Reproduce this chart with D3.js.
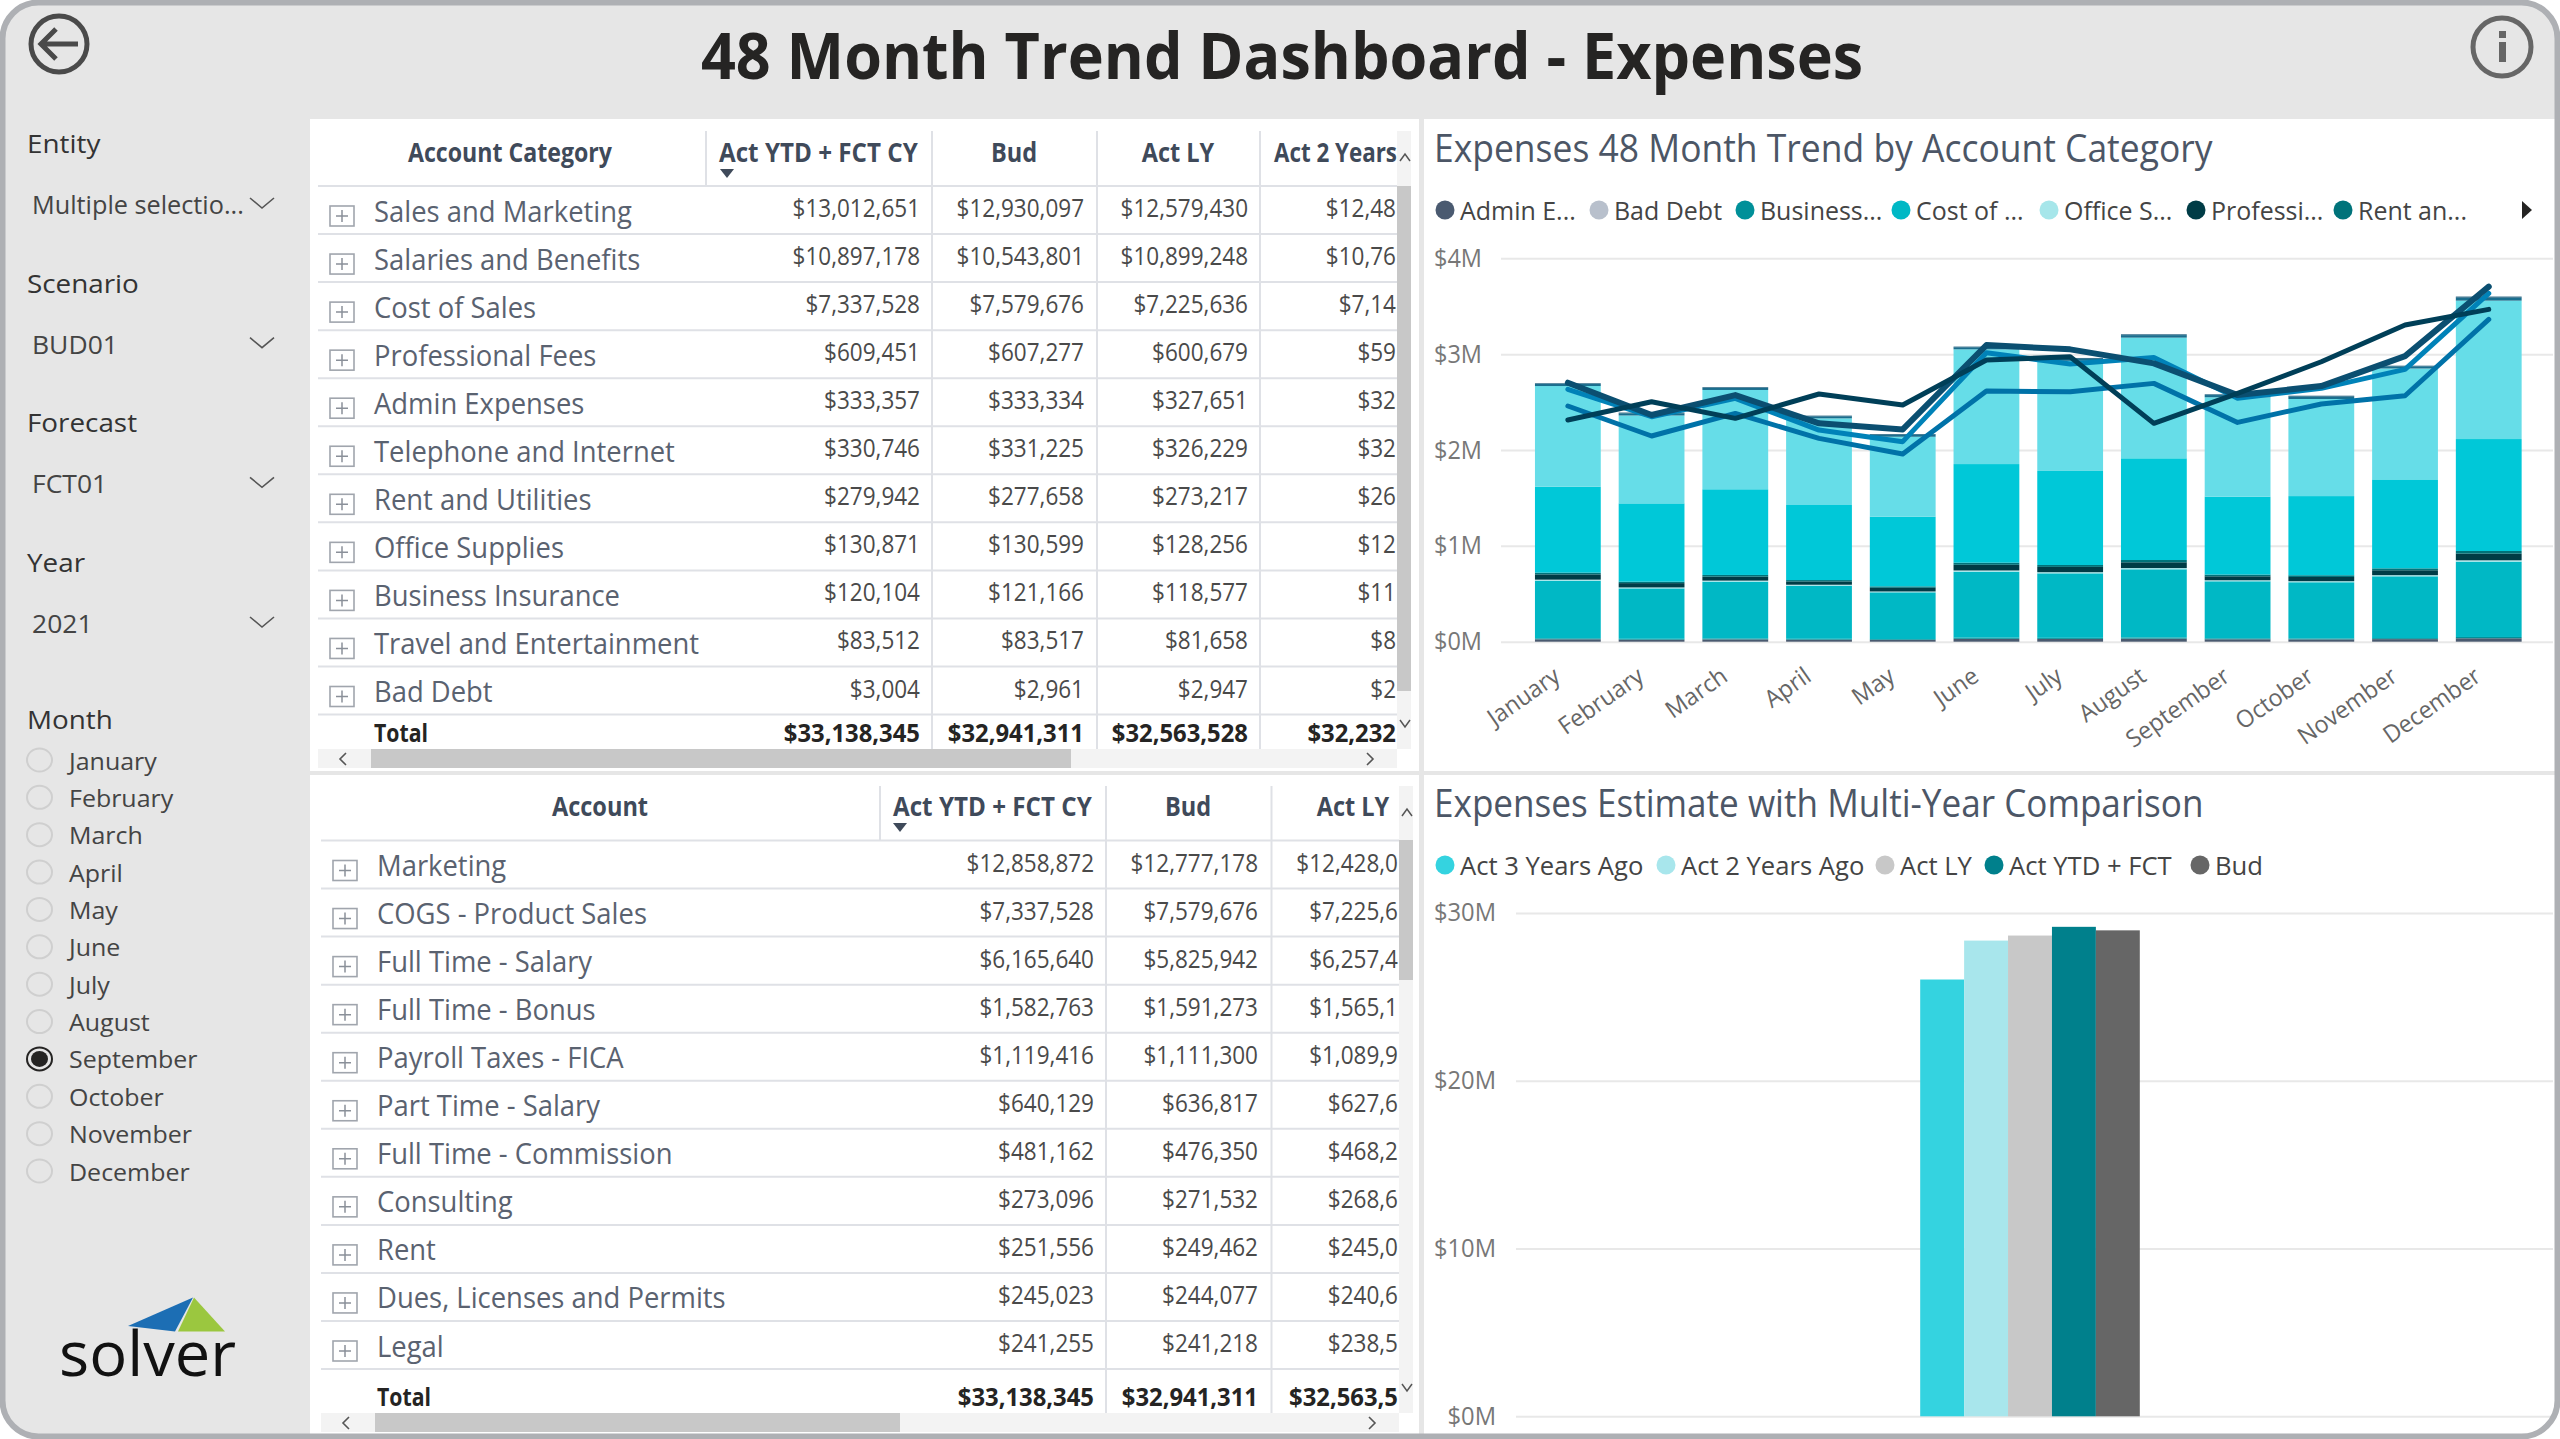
<!DOCTYPE html>
<html>
<head>
<meta charset="utf-8">
<title>48 Month Trend Dashboard - Expenses</title>
<script src="https://cdn.jsdelivr.net/npm/d3@7"></script>
<style>
html,body{margin:0;padding:0;background:#fff;}
svg{display:block;}
text{font-family:"Open Sans",sans-serif;}
</style>
</head>
<body>
<div id="dash"></div>
<script>
// ---- data ----
var months = ["January","February","March","April","May","June","July","August","September","October","November","December"];

// stacked bars, $M per month
var stackNames = ["Admin Expenses","Bad Debt","Business Insurance","Cost of Sales","Office Supplies","Professional Fees","Rent and Utilities","Sales and Marketing","Salaries and Benefits","Telephone and Internet","Travel and Entertainment"];
var adminExp = [.025,.021,.024,.021,.019,.030,.029,.032,.025,.024,.027,.036];
var badDebt = [.0003,.0002,.0003,.0002,.0002,.0003,.0003,.0003,.0002,.0002,.0003,.0003];
var businessIns = [.010,.009,.010,.009,.008,.012,.011,.012,.010,.010,.010,.013];
var costOfSales = [.601,.526,.592,.554,.488,.688,.673,.711,.595,.586,.645,.786];
var officeSup = [.011,.010,.011,.010,.009,.013,.012,.013,.011,.011,.012,.014];
var profFees = [.055,.045,.041,.035,.038,.059,.055,.060,.041,.044,.051,.069];
var rentUtil = [.018,.015,.018,.014,.015,.022,.020,.024,.018,.018,.020,.028];
var salesMkt = [.897,.817,.894,.783,.727,1.029,.981,1.061,.813,.826,.928,1.168];
var salaries = [1.05,.917,1.036,.904,.834,1.197,1.149,1.259,1.037,1.013,1.157,1.444];
var telephone = [.021,.022,.021,.021,.021,.021,.022,.026,.023,.026,.022,.032];
var travel = [.007,.008,.007,.007,.007,.007,.008,.008,.007,.008,.007,.010];
var stackSeries = [adminExp,badDebt,businessIns,costOfSales,officeSup,profFees,rentUtil,salesMkt,salaries,telephone,travel];
var stackColors = ["#4a5a70","#b8c0cc","#009099","#00b8c5","#a6e6ea","#003c46","#00737a","#00c8d8","#66dde8","#1a6e8e","#0b4f71"];

// trend lines, $M per month
var trendA = [2.313,2.504,2.33,2.584,2.469,2.939,2.973,2.278,2.591,2.921,3.304,3.467];
var trendB = [2.702,2.365,2.573,2.278,2.215,3.095,3.05,2.904,2.573,2.667,2.98,3.704];
var trendC = [2.633,2.347,2.539,2.208,2.087,3.015,2.897,2.966,2.539,2.643,2.841,3.634];
var trendD = [2.459,2.146,2.382,2.121,1.958,2.615,2.608,2.695,2.288,2.48,2.566,3.363];
var trendSeries = [trendD,trendC,trendB,trendA];
var trendColors = ["#0072a8","#0082b8","#0b4f71","#003f58"];
var trendWidths = [5,5,6,5];

var legend1Names = ["Admin E...","Bad Debt","Business...","Cost of ...","Office S...","Professi...","Rent an..."];
var legend1Colors = ["#4a5a70","#b8c0cc","#009099","#00b8c5","#a6e6ea","#003c46","#00737a"];

// multi year comparison, $M
var compareNames = ["Act 3 Years Ago","Act 2 Years Ago","Act LY","Act YTD + FCT","Bud"];
var compareValues = [26.03,28.35,28.65,29.17,28.96];
var compareColors = ["#34d3e0","#a8e6ec","#c8c8c8","#00808c","#666666"];

// tables
var catLabels = ["Sales and Marketing","Salaries and Benefits","Cost of Sales","Professional Fees","Admin Expenses","Telephone and Internet","Rent and Utilities","Office Supplies","Business Insurance","Travel and Entertainment","Bad Debt"];
var catActCy = [13012651,10897178,7337528,609451,333357,330746,279942,130871,120104,83512,3004];
var catBud = [12930097,10543801,7579676,607277,333334,331225,277658,130599,121166,83517,2961];
var catActLy = [12579430,10899248,7225636,600679,327651,326229,273217,128256,118577,81658,2947];
var catAct2y = ["$12,48","$10,76","$7,14","$59","$32","$32","$26","$12","$11","$8","$2"];
var catTotals = ["$33,138,345","$32,941,311","$32,563,528","$32,232"];

var acctLabels = ["Marketing","COGS - Product Sales","Full Time - Salary","Full Time - Bonus","Payroll Taxes - FICA","Part Time - Salary","Full Time - Commission","Consulting","Rent","Dues, Licenses and Permits","Legal"];
var acctActCy = [12858872,7337528,6165640,1582763,1119416,640129,481162,273096,251556,245023,241255];
var acctBud = [12777178,7579676,5825942,1591273,1111300,636817,476350,271532,249462,244077,241218];
var acctActLy = ["$12,428,0","$7,225,6","$6,257,4","$1,565,1","$1,089,9","$627,6","$468,2","$268,6","$245,0","$240,6","$238,5"];
var acctTotals = ["$33,138,345","$32,941,311","$32,563,5"];

// slicers
var slicerNames = ["Entity","Scenario","Forecast","Year"];
var slicerValues = ["Multiple selectio...","BUD01","FCT01","2021"];
var selectedMonth = "September";

var W = 2560, H = 1439;
var money = d3.format("$,");

var svg = d3.select("#dash").append("svg").attr("width", W).attr("height", H);

// squeeze text sideways, the source picture is horizontally condensed
function fit(sel, k) {
  sel.each(function() {
    var t = d3.select(this);
    t.attr("textLength", this.getComputedTextLength() * k).attr("lengthAdjust", "spacingAndGlyphs");
  });
  return sel;
}
function label(g, x, y, str, size, color, opts) {
  opts = opts || {};
  var t = g.append("text").attr("x", x).attr("y", y).text(str)
    .attr("font-size", size).attr("fill", color)
    .attr("dominant-baseline", "central")
    .attr("text-anchor", opts.anchor || "start")
    .attr("font-weight", opts.weight || 400);
  if (opts.k) fit(t, opts.k);
  return t;
}

// ---- frame ----
svg.append("rect").attr("x", 2.5).attr("y", 2.5).attr("width", W - 5).attr("height", H - 5)
  .attr("rx", 36).attr("fill", "#e6e6e6");

label(svg, 1282, 54, "48 Month Trend Dashboard - Expenses", 64, "#252423", {anchor: "middle", weight: 700, k: 0.954});

// back arrow
var back = svg.append("g").attr("fill", "none").attr("stroke", "#4a4a4a");
back.append("circle").attr("cx", 59).attr("cy", 44).attr("r", 28).attr("stroke-width", 5);
back.append("path").attr("d", "M42,44H78M56,29L41,44L56,59").attr("stroke-width", 5);

// info icon
var info = svg.append("g");
info.append("circle").attr("cx", 2502).attr("cy", 47).attr("r", 29).attr("fill", "none").attr("stroke", "#666").attr("stroke-width", 5);
info.append("rect").attr("x", 2499).attr("y", 31).attr("width", 7).attr("height", 7).attr("fill", "#666");
info.append("rect").attr("x", 2499).attr("y", 42).attr("width", 7).attr("height", 20).attr("fill", "#666");

// white panels
svg.append("clipPath").attr("id", "frameClip").append("rect").attr("x", 3).attr("y", 3)
  .attr("width", W - 6).attr("height", H - 6).attr("rx", 36);
[[310,119,1109,652],[1424,119,1136,652],[310,775,1109,664],[1424,775,1136,664]].forEach(function(p) {
  svg.append("rect").attr("x", p[0]).attr("y", p[1]).attr("width", p[2]).attr("height", p[3]).attr("fill", "#fff")
    .attr("clip-path", "url(#frameClip)");
});

// ---- sidebar ----
var side = svg.append("g");
var slicerY = d3.scalePoint().domain(slicerNames).range([143, 562]);
slicerNames.forEach(function(n, i) {
  var y = slicerY(n);
  label(side, 27, y, n, 26, "#333", {k: 1.07});
  label(side, 32, y + 61, slicerValues[i], 25, "#444", {k: i == 0 ? 1.01 : 1.06});
  side.append("path").attr("d", "M250," + (y + 55) + "L262," + (y + 65) + "L274," + (y + 55))
    .attr("fill", "none").attr("stroke", "#555").attr("stroke-width", 1.6);
});
label(side, 27, 719, "Month", 26, "#333", {k: 1.07});
var monthY = d3.scalePoint().domain(months).range([760, 1171]);
var radios = side.selectAll("g.radio").data(months).enter().append("g").attr("class", "radio");
radios.append("ellipse").attr("cx", 39.5).attr("cy", d => monthY(d)).attr("rx", 12.5).attr("ry", 11.5)
  .attr("fill", "none").attr("stroke", d => d == selectedMonth ? "#252423" : "#cfcfcf").attr("stroke-width", 2);
radios.filter(d => d == selectedMonth).append("ellipse").attr("cx", 39.5).attr("cy", d => monthY(d))
  .attr("rx", 8.5).attr("ry", 8).attr("fill", "#252423");
radios.append("text").attr("x", 69).attr("y", d => monthY(d)).text(d => d)
  .attr("font-size", 24).attr("fill", "#444").attr("dominant-baseline", "central").call(fit, 1.04);

// logo
side.append("path").attr("d", "M128,1326L193,1297.5L175,1331.5Z").attr("fill", "#1c6eb4");
side.append("path").attr("d", "M194,1297.5L225,1331.5L178,1331.5Z").attr("fill", "#9bc73f");
side.append("text").attr("x", 59).attr("y", 1376).text("solver").attr("font-size", 62).attr("fill", "#111")
  .attr("font-family", "Liberation Sans").call(fit, 1.02);

// ---- tables ----
function drawTable(cfg) {
  var g = svg.append("g");
  var clipId = cfg.id + "Clip";
  svg.append("clipPath").attr("id", clipId).append("rect")
    .attr("x", cfg.left).attr("y", cfg.top).attr("width", cfg.right - cfg.left).attr("height", cfg.scrollY - cfg.top);
  var rowScale = d3.scaleBand().domain(cfg.rows).range([cfg.headBottom, cfg.headBottom + cfg.rowH * cfg.rows.length]);
  var bottom = rowScale.range()[1];
  var line = "#dfe1e6";

  // row and column rules, the first column rule only runs through the header
  cfg.rows.forEach(function(r) {
    g.append("line").attr("x1", cfg.left).attr("x2", cfg.right).attr("y1", rowScale(r) + cfg.rowH).attr("y2", rowScale(r) + cfg.rowH)
      .attr("stroke", line).attr("stroke-width", 2);
  });
  g.append("line").attr("x1", cfg.left).attr("x2", cfg.right).attr("y1", cfg.headBottom).attr("y2", cfg.headBottom).attr("stroke", line).attr("stroke-width", 2);
  cfg.seps.forEach(function(x, i) {
    g.append("line").attr("x1", x).attr("x2", x).attr("y1", cfg.top).attr("y2", i == 0 ? cfg.headBottom : cfg.scrollY).attr("stroke", line).attr("stroke-width", 2);
  });

  // header
  cfg.heads.forEach(function(h) {
    label(g, h.x, cfg.headY, h.text, 26, "#3f4a5a", {anchor: h.anchor, weight: 700, k: h.k || 0.905})
      .attr("clip-path", "url(#" + clipId + ")");
  });
  var tx = cfg.triX, ty = cfg.triY;
  g.append("path").attr("d", "M" + (tx - 7) + "," + (ty - 4) + "H" + (tx + 7) + "L" + tx + "," + (ty + 5) + "Z").attr("fill", "#3f4a5a");

  // rows
  var rows = g.selectAll("g.row").data(cfg.rows).enter().append("g").attr("class", "row");
  rows.append("rect").attr("x", cfg.boxX).attr("y", d => rowScale(d) + 20).attr("width", 24).attr("height", 20)
    .attr("fill", "#fff").attr("stroke", "#a0a5ad").attr("stroke-width", 1.6);
  rows.append("path").attr("d", d => {
    var cx = cfg.boxX + 12, cy = rowScale(d) + 30;
    return "M" + (cx - 6) + "," + cy + "H" + (cx + 6) + "M" + cx + "," + (cy - 6) + "V" + (cy + 6);
  }).attr("stroke", "#8a9099").attr("stroke-width", 1.5);
  rows.append("text").attr("x", cfg.labelX).attr("y", d => rowScale(d) + 24).text(d => d)
    .attr("font-size", 29).attr("fill", "#5a6270").attr("dominant-baseline", "central").call(fit, 0.945);

  cfg.cols.forEach(function(c) {
    rows.append("text").attr("x", c.x).attr("y", d => rowScale(d) + 21)
      .text((d, i) => typeof c.vals[i] == "number" ? money(c.vals[i]) : c.vals[i])
      .attr("text-anchor", "end").attr("font-size", 25).attr("fill", "#4a4a4a")
      .attr("dominant-baseline", "central").attr("clip-path", "url(#" + clipId + ")").call(fit, 0.9);
  });

  // total row
  var ty2 = bottom + cfg.totalDy;
  label(g, cfg.labelX, ty2, "Total", 25, "#252423", {weight: 700, k: 0.85});
  cfg.cols.forEach(function(c, i) {
    label(g, c.x, ty2, cfg.totals[i], 25, "#252423", {anchor: "end", weight: 700, k: 0.953})
      .attr("clip-path", "url(#" + clipId + ")");
  });

  // scrollbars
  g.append("rect").attr("x", cfg.left).attr("y", cfg.scrollY).attr("width", cfg.right - cfg.left).attr("height", 19).attr("fill", "#f3f3f3");
  g.append("rect").attr("x", cfg.hThumb[0]).attr("y", cfg.scrollY).attr("width", cfg.hThumb[1] - cfg.hThumb[0]).attr("height", 19).attr("fill", "#c8c8c8");
  g.append("path").attr("d", "M" + (cfg.left + 28) + "," + (cfg.scrollY + 4) + "l-6,6l6,6").attr("fill", "none").attr("stroke", "#555").attr("stroke-width", 1.6);
  g.append("path").attr("d", "M" + (cfg.right - 30) + "," + (cfg.scrollY + 4) + "l6,6l-6,6").attr("fill", "none").attr("stroke", "#555").attr("stroke-width", 1.6);
  g.append("rect").attr("x", cfg.right).attr("y", cfg.top).attr("width", 14).attr("height", cfg.scrollY - cfg.top).attr("fill", "#f3f3f3");
  g.append("rect").attr("x", cfg.right).attr("y", cfg.vThumb[0]).attr("width", 14).attr("height", cfg.vThumb[1] - cfg.vThumb[0]).attr("fill", "#c8c8c8");
  var cx = cfg.right + 8;
  g.append("path").attr("d", "M" + (cx - 5) + "," + (cfg.upY + 4) + "l5,-7l5,7").attr("fill", "none").attr("stroke", "#555").attr("stroke-width", 1.5);
  g.append("path").attr("d", "M" + (cx - 5) + "," + (cfg.downY - 4) + "l5,7l5,-7").attr("fill", "none").attr("stroke", "#555").attr("stroke-width", 1.5);
}

drawTable({
  id: "cat", rows: catLabels, left: 318, right: 1397, top: 131, headBottom: 186, rowH: 48.05, scrollY: 749, headY: 151.5,
  seps: [706, 932, 1097, 1260], boxX: 330, labelX: 374, triX: 727, triY: 173, totalDy: 17,
  heads: [{x: 510, text: "Account Category", anchor: "middle", k: 0.89}, {x: 719, text: "Act YTD + FCT CY", k: 0.93},
    {x: 1014, text: "Bud", anchor: "middle"}, {x: 1178, text: "Act LY", anchor: "middle"}, {x: 1274, text: "Act 2 Years", k: 0.86}],
  cols: [{x: 920, vals: catActCy}, {x: 1084, vals: catBud}, {x: 1248, vals: catActLy}, {x: 1396, vals: catAct2y}],
  totals: catTotals, hThumb: [371, 1071], vThumb: [186, 691], upY: 157, downY: 724
});
drawTable({
  id: "acct", rows: acctLabels, left: 321, right: 1399, top: 786, headBottom: 840.5, rowH: 48.05, scrollY: 1413, headY: 806,
  seps: [880, 1106, 1271.5], boxX: 333, labelX: 377, triX: 900, triY: 827, totalDy: 27,
  heads: [{x: 600, text: "Account", anchor: "middle"}, {x: 893, text: "Act YTD + FCT CY", k: 0.93},
    {x: 1188, text: "Bud", anchor: "middle"}, {x: 1353, text: "Act LY", anchor: "middle"}],
  cols: [{x: 1094, vals: acctActCy}, {x: 1258, vals: acctBud}, {x: 1398, vals: acctActLy}],
  totals: acctTotals, hThumb: [375, 900], vThumb: [840, 980], upY: 812, downY: 1388
});

// ---- trend chart ----
label(svg, 1434, 147, "Expenses 48 Month Trend by Account Category", 38, "#4c5666", {k: 0.933});

var legend1X = d3.scaleOrdinal().domain(legend1Names).range([1445, 1599, 1745, 1901, 2049, 2196, 2343]);
var leg1 = svg.selectAll("g.leg1").data(legend1Names).enter().append("g").attr("class", "leg1");
leg1.append("circle").attr("cx", d => legend1X(d)).attr("cy", 210).attr("r", 9.5).attr("fill", (d, i) => legend1Colors[i]);
leg1.append("text").attr("x", d => legend1X(d) + 15).attr("y", 210).text(d => d).attr("font-size", 26)
  .attr("fill", "#444").attr("dominant-baseline", "central").call(fit, 0.96);
svg.append("path").attr("d", "M2522,201L2532,210L2522,219Z").attr("fill", "#252423");

var x1 = d3.scaleBand().domain(months).range([1526, 2530.6]).paddingInner(0.214).paddingOuter(0.107);
var y1 = d3.scaleLinear().domain([0, 4]).range([641.7, 258.3]);

var axisY1 = d3.axisLeft(y1).tickValues([0, 1, 2, 3, 4]).tickFormat(d => "$" + d + "M").tickSize(-(2553 - 1501)).tickPadding(19);
var gy1 = svg.append("g").attr("transform", "translate(1501,0)").call(axisY1);
gy1.select(".domain").remove();
gy1.selectAll("line").attr("stroke", "#e8e8e8").attr("stroke-width", 2);
gy1.selectAll("text").attr("font-size", 25).attr("fill", "#777").style("font-family", "Open Sans").call(fit, 0.94);

var stackData = months.map(function(m, i) {
  var row = {month: m};
  stackNames.forEach(function(n, s) { row[n] = stackSeries[s][i]; });
  return row;
});
var stacked = d3.stack().keys(stackNames)(stackData);
svg.append("g").selectAll("g").data(stacked).enter().append("g")
  .attr("fill", (d, i) => stackColors[i])
  .selectAll("rect").data(d => d).enter().append("rect")
  .attr("x", d => x1(d.data.month)).attr("width", x1.bandwidth())
  .attr("y", d => y1(d[1])).attr("height", d => y1(d[0]) - y1(d[1]));

var lineGen = d3.line().x((d, i) => x1(months[i]) + x1.bandwidth() / 2).y(d => y1(d));
svg.append("g").selectAll("path").data(trendSeries).enter().append("path")
  .attr("d", lineGen).attr("fill", "none").attr("stroke", (d, i) => trendColors[i])
  .attr("stroke-width", (d, i) => trendWidths[i]).attr("stroke-linecap", "round").attr("stroke-linejoin", "round");

var axisX1 = d3.axisBottom(x1).tickSize(0).tickPadding(0);
var gx1 = svg.append("g").attr("transform", "translate(0,655)").call(axisX1);
gx1.select(".domain").remove();
gx1.selectAll("text").attr("font-size", 24).attr("fill", "#666").style("font-family", "Open Sans")
  .attr("text-anchor", "end").attr("dy", "0.7em").attr("dx", "-0.8em")
  .attr("transform", "rotate(-35)").call(fit, 0.97);

// ---- comparison chart ----
label(svg, 1434, 802, "Expenses Estimate with Multi-Year Comparison", 38, "#4c5666", {k: 0.924});

var legend2X = d3.scaleOrdinal().domain(compareNames).range([1445, 1666, 1885, 1994, 2200]);
var leg2 = svg.selectAll("g.leg2").data(compareNames).enter().append("g").attr("class", "leg2");
leg2.append("circle").attr("cx", d => legend2X(d)).attr("cy", 865).attr("r", 9.5).attr("fill", (d, i) => compareColors[i]);
leg2.append("text").attr("x", d => legend2X(d) + 15).attr("y", 865).text(d => d).attr("font-size", 26)
  .attr("fill", "#444").attr("dominant-baseline", "central").call(fit, 0.985);

var x2 = d3.scaleBand().domain(compareNames).range([1920.2, 2139.8]);
var y2 = d3.scaleLinear().domain([0, 30]).range([1416.3, 912.9]);
var axisY2 = d3.axisLeft(y2).tickValues([0, 10, 20, 30]).tickFormat(d => "$" + d + "M").tickSize(-(2553 - 1516)).tickPadding(20);
var gy2 = svg.append("g").attr("transform", "translate(1516,0)").call(axisY2);
gy2.select(".domain").remove();
gy2.selectAll("line").attr("stroke", "#e8e8e8").attr("stroke-width", 2);
gy2.selectAll("text").attr("font-size", 25).attr("fill", "#777").style("font-family", "Open Sans").call(fit, 0.95);

svg.append("g").selectAll("rect").data(compareValues).enter().append("rect")
  .attr("x", (d, i) => x2(compareNames[i])).attr("width", x2.bandwidth())
  .attr("y", d => y2(d)).attr("height", d => y2(0) - y2(d))
  .attr("fill", (d, i) => compareColors[i]);

// frame border goes on last so the panels sit under it
svg.append("rect").attr("x", 2.5).attr("y", 2.5).attr("width", W - 5).attr("height", H - 5)
  .attr("rx", 36).attr("fill", "none").attr("stroke", "#aeb0b4").attr("stroke-width", 6);
</script>
</body>
</html>
